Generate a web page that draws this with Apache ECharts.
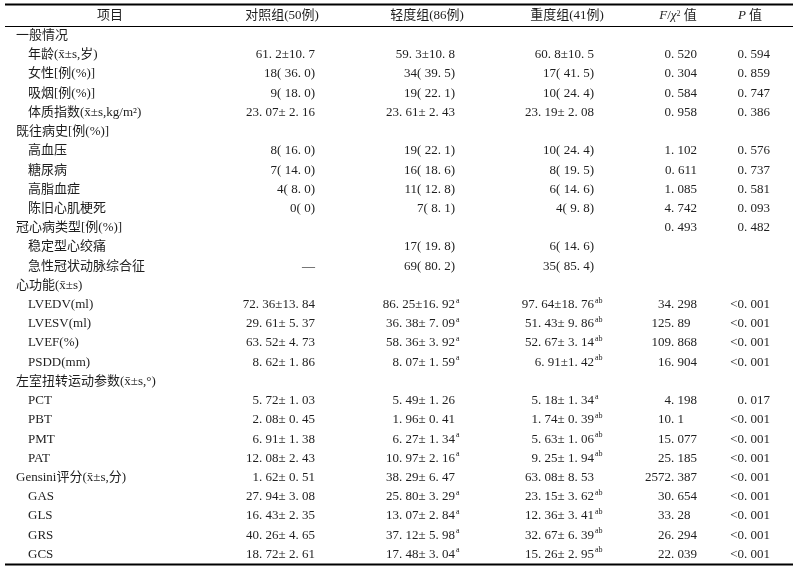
<!DOCTYPE html>
<html><head><meta charset="utf-8">
<script src="https://cdn.jsdelivr.net/npm/echarts@6/dist/echarts.min.js"></script>
<style>html,body{margin:0;padding:0;background:#fff}#c{width:798px;height:577px}</style>
</head><body><div id="c"></div>
<script>
// ---------- data ----------
const rowLabels = [
  '一般情况','年龄(x̄±s,岁)','女性[例(%)]','吸烟[例(%)]','体质指数(x̄±s,kg/m²)',
  '既往病史[例(%)]','高血压','糖尿病','高脂血症','陈旧心肌梗死',
  '冠心病类型[例(%)]','稳定型心绞痛','急性冠状动脉综合征',
  '心功能(x̄±s)','LVEDV(ml)','LVESV(ml)','LVEF(%)','PSDD(mm)',
  '左室扭转运动参数(x̄±s,°)','PCT','PBT','PMT','PAT',
  'Gensini评分(x̄±s,分)','GAS','GLS','GRS','GCS'
];
const rowLevel = [0,1,1,1,1, 0,1,1,1,1, 0,1,1, 0,1,1,1,1, 0,1,1,1,1, 0,1,1,1,1];
const controlVals = [
  '','61.2±10.7','18(36.0)','9(18.0)','23.07± 2.16',
  '','8(16.0)','7(14.0)','4(8.0)','0(0)',
  '','','—',
  '','72.36±13.84','29.61± 5.37','63.52± 4.73','8.62± 1.86',
  '','5.72± 1.03','2.08± 0.45','6.91± 1.38','12.08± 2.43',
  '1.62± 0.51','27.94± 3.08','16.43± 2.35','40.26± 4.65','18.72± 2.61'
];
const mildVals = [
  '','59.3±10.8','34(39.5)','19(22.1)','23.61± 2.43',
  '','19(22.1)','16(18.6)','11(12.8)','7(8.1)',
  '','17(19.8)','69(80.2)',
  '','86.25±16.92','36.38± 7.09','58.36± 3.92','8.07± 1.59',
  '','5.49± 1.26','1.96± 0.41','6.27± 1.34','10.97± 2.16',
  '38.29± 6.47','25.80± 3.29','13.07± 2.84','37.12± 5.98','17.48± 3.04'
];
const mildSup = [
  '','','','','', '','','','','', '','','',
  '','a','a','a','a', '','','','a','a', '','a','a','a','a'
];
const severeVals = [
  '','60.8±10.5','17(41.5)','10(24.4)','23.19± 2.08',
  '','10(24.4)','8(19.5)','6(14.6)','4(9.8)',
  '','6(14.6)','35(85.4)',
  '','97.64±18.76','51.43± 9.86','52.67± 3.14','6.91±1.42',
  '','5.18± 1.34','1.74± 0.39','5.63± 1.06','9.25± 1.94',
  '63.08± 8.53','23.15± 3.62','12.36± 3.41','32.67± 6.39','15.26± 2.95'
];
const severeSup = [
  '','','','','', '','','','','', '','','',
  '','ab','ab','ab','ab', '','a','ab','ab','ab', '','ab','ab','ab','ab'
];
const statVals = [
  '','0.520','0.304','0.584','0.958',
  '','1.102','0.611','1.085','4.742',
  '0.493','','',
  '','34.298','125.89','109.868','16.904',
  '','4.198','10.1','15.077','25.185',
  '2572.387','30.654','33.28','26.294','22.039'
];
const pVals = [
  '','0.594','0.859','0.747','0.386',
  '','0.576','0.737','0.581','0.093',
  '0.482','','',
  '','<0.001','<0.001','<0.001','<0.001',
  '','0.017','<0.001','<0.001','<0.001',
  '<0.001','<0.001','<0.001','<0.001','<0.001'
];
const headers = ['项目','对照组(50例)','轻度组(86例)','重度组(41例)','F/χ²值','P值'];

// ---------- build ----------
const FONT = '"Liberation Serif","Noto Sans CJK SC",serif';
const FS = 13;
const COLOR = '#1e1e1e';
const columns = [rowLabels, controlVals, mildVals, severeVals, statVals, pVals];
const supCols = {2: mildSup, 3: severeSup};
const anchors = [0, 315, 455, 594, 697, 770];

function fmt(s){ return s.replace(/\.(\d)/g, '. $1').replace(/\((\d)/g,'( $1'); }

const cells = [];
columns.forEach((col, c) => col.forEach((t, r) => { if (t) cells.push([c, r]); }));

const chart = echarts.init(document.getElementById('c'));
chart.setOption({
  animation: false,
  backgroundColor: '#fff',
  grid: {left: 0, right: 0, top: 26, bottom: 13},
  xAxis: {type: 'value', min: 0, max: 798, show: false},
  yAxis: {type: 'category', inverse: true, data: rowLabels, show: false},
  graphic: [
    {type: 'line', shape: {x1: 5, y1: 4.5, x2: 793, y2: 4.5}, style: {stroke: '#000', lineWidth: 2}},
    {type: 'line', shape: {x1: 5, y1: 26.5, x2: 793, y2: 26.5}, style: {stroke: '#000', lineWidth: 1}},
    {type: 'line', shape: {x1: 5, y1: 564.5, x2: 793, y2: 564.5}, style: {stroke: '#000', lineWidth: 2}},
    {type: 'text', x: 110, y: 16, style: {text: headers[0], font: FS + 'px ' + FONT, fill: COLOR, align: 'center', verticalAlign: 'middle'}},
    {type: 'text', x: 282, y: 16, style: {text: fmt(headers[1]).replace('( ','('), font: FS + 'px ' + FONT, fill: COLOR, align: 'center', verticalAlign: 'middle'}},
    {type: 'text', x: 427, y: 16, style: {text: headers[2], font: FS + 'px ' + FONT, fill: COLOR, align: 'center', verticalAlign: 'middle'}},
    {type: 'text', x: 567, y: 16, style: {text: headers[3], font: FS + 'px ' + FONT, fill: COLOR, align: 'center', verticalAlign: 'middle'}},
    {type: 'text', x: 678, y: 16, style: {text: '{i|F}/{i|χ}{s|2} 值', font: FS + 'px ' + FONT, fill: COLOR, align: 'center', verticalAlign: 'middle',
      rich: {i: {fontStyle: 'italic', fontFamily: FONT, fontSize: FS, fill: COLOR}, s: {fontSize: 8, fontFamily: FONT, fill: COLOR, verticalAlign: 'top'}}}},
    {type: 'text', x: 750, y: 16, style: {text: '{i|P} 值', font: FS + 'px ' + FONT, fill: COLOR, align: 'center', verticalAlign: 'middle',
      rich: {i: {fontStyle: 'italic', fontFamily: FONT, fontSize: FS, fill: COLOR}}}}
  ],
  series: [{
    type: 'custom',
    data: cells,
    clip: false,
    renderItem: function (params, api) {
      const c = api.value(0), r = api.value(1);
      const text = columns[c][r];
      const y = api.coord([0, r])[1];
      if (c === 0) {
        const x = api.coord([rowLevel[r] ? 28 : 16, r])[0];
        return {type: 'text', x: x, y: y, style: {text: text, font: FS + 'px ' + FONT, fill: COLOR, align: 'left', verticalAlign: 'middle'}};
      }
      let ax = anchors[c];
      if (c === 4) {
        const dec = (text.split('.')[1] || '').length;
        ax -= (3 - dec) * 6.5;
      }
      const x = api.coord([ax, r])[0];
      const children = [{type: 'text', x: x, y: y, style: {text: fmt(text), font: FS + 'px ' + FONT, fill: COLOR, align: 'right', verticalAlign: 'middle'}}];
      const sup = supCols[c] ? supCols[c][r] : '';
      if (sup) children.push({type: 'text', x: x + 1, y: y - 4, style: {text: sup, font: '8px ' + FONT, fill: COLOR, align: 'left', verticalAlign: 'middle'}});
      return {type: 'group', children: children};
    }
  }]
});
</script></body></html>
